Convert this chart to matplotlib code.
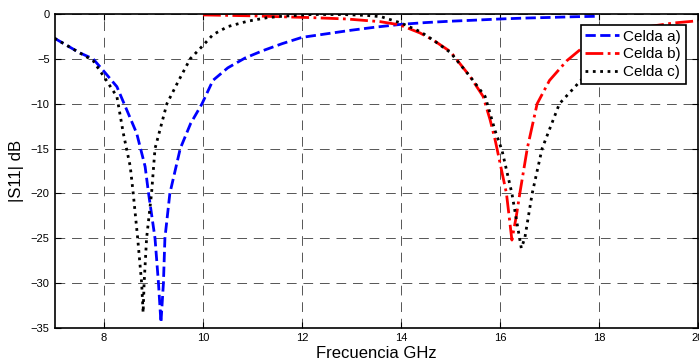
import matplotlib
matplotlib.use("Agg")
import matplotlib.pyplot as plt

plt.rcParams['font.family'] = ['Liberation Sans', 'DejaVu Sans']
plt.rcParams['xtick.direction'] = 'in'
plt.rcParams['ytick.direction'] = 'in'
plt.rcParams['xtick.labelsize'] = 8
plt.rcParams['ytick.labelsize'] = 8

# Celda a)
freq_a = [7, 7.25, 7.5, 7.78, 8, 8.26, 8.46, 8.66, 8.83, 8.9, 9.03, 9.1, 9.15, 9.2, 9.23,
          9.33, 9.54, 9.75, 9.98, 10.2, 10.5, 10.85, 11.2, 11.6, 12, 12.5, 13, 13.5, 14,
          14.5, 15, 15.5, 16, 16.5, 17, 17.5, 18]
s11_a = [-2.7, -3.5, -4.3, -5.0, -6.4, -8.1, -10.7, -13.3, -17, -20, -25, -30, -34.4, -30, -25,
         -20, -15, -12.2, -10, -7.4, -6, -4.9, -4.1, -3.3, -2.6, -2.2, -1.8, -1.45, -1.15,
         -0.95, -0.8, -0.68, -0.55, -0.45, -0.38, -0.3, -0.25]

# Celda b)
freq_b = [10, 10.5, 11, 11.56, 12.2, 12.9, 13.58, 13.97, 14.38, 14.65, 15, 15.4, 15.66, 15.8,
          15.9, 16.0, 16.13, 16.24, 16.33, 16.4, 16.55, 16.75, 17.0, 17.35, 17.7, 18, 18.5,
          19, 19.5, 20]
s11_b = [-0.1, -0.15, -0.2, -0.3, -0.4, -0.55, -0.85, -1.2, -2.1, -2.9, -4.2, -7, -9.2, -11.8,
         -14, -16.6, -20, -25.2, -22.5, -20, -15, -10, -7.4, -5.2, -3.6, -2.8, -2.0,
         -1.4, -1.0, -0.75]

# Celda c)
freq_c = [7, 7.25, 7.5, 7.78, 8, 8.26, 8.39, 8.53, 8.59, 8.68, 8.76, 8.79, 8.81, 8.86, 8.96,
          9.03, 9.27, 9.5, 9.74, 10.0, 10.2, 10.5, 10.9, 11.3, 11.6, 12.2, 12.8, 13.3, 13.6,
          14, 14.4, 14.65, 15, 15.4, 15.7, 15.9, 16.04, 16.24, 16.43, 16.5, 16.65, 16.85,
          17.2, 17.7, 18.2, 18.5]
s11_c = [-2.7, -3.5, -4.3, -5.2, -7, -9.2, -13.3, -17, -20, -25, -30, -33.3, -30, -25, -20,
         -15, -10, -7.5, -5, -3.5, -2.3, -1.4, -0.8, -0.4, -0.25, -0.05, -0.05, -0.15, -0.3,
         -1.0, -2.0, -2.9, -4.3, -7, -9.2, -13, -15.2, -20, -26.1, -25, -20, -15,
         -10, -7, -5, -4]

fig = plt.figure(figsize=(6.99, 3.6), dpi=100)
ax = fig.add_axes([0.078, 0.089, 0.9206, 0.872])

ax.plot(freq_a, s11_a, color='#0000ff', ls='--', lw=2, label='Celda a)')
ax.plot(freq_b, s11_b, color='#ff0000', ls='-.', lw=2, label='Celda b)')
ax.plot(freq_c, s11_c, color='black', ls=':', lw=2, label='Celda c)')

ax.set_xlim(7, 20)
ax.set_ylim(-35, 0)
ax.set_xticks([8, 10, 12, 14, 16, 18, 20])
ax.set_yticks([0, -5, -10, -15, -20, -25, -30, -35])
ax.tick_params(top=True, right=True, length=4, width=0.8)
ax.grid(True, color='#555555', ls=(0, (10, 7)), lw=0.7)
for sp in ax.spines.values():
    sp.set_linewidth(1.2)

ax.set_xlabel('Frecuencia GHz', fontsize=12, labelpad=2)
ax.set_ylabel('|S11| dB', fontsize=12, labelpad=5)

leg = ax.legend(loc='upper right', bbox_to_anchor=(0.981, 0.965), borderaxespad=0,
                fontsize=11, fancybox=False, framealpha=1, edgecolor='black',
                handlelength=2.2, handletextpad=0.3, labelspacing=0.25, borderpad=0.3)
leg.get_frame().set_linewidth(1.2)

fig.savefig('out.png', dpi=100)
